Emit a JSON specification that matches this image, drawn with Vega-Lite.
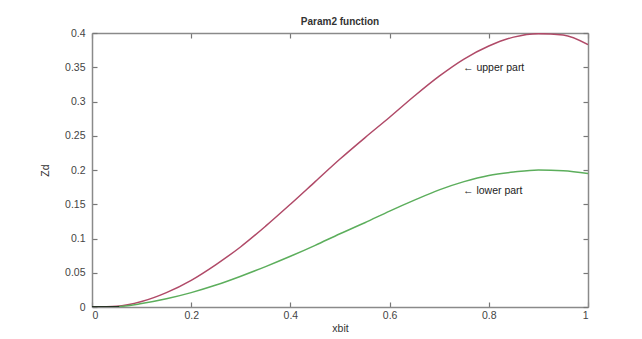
{
  "$schema": "https://vega.github.io/schema/vega-lite/v6.json",
  "width": 496,
  "height": 274,
  "autosize": "none",
  "padding": {"left": 92, "top": 33, "right": 54, "bottom": 32},
  "background": "white",
  "title": {"text": "Param2 function", "fontSize": 10, "fontWeight": "bold", "font": "Liberation Sans", "color": "#333333", "offset": 1},
  "config": {
    "view": {"stroke": null},
    "axis": {"labelFont": "Liberation Sans", "titleFont": "Liberation Sans", "labelFontSize": 10.5, "titleFontSize": 10.5, "titleFontWeight": "normal", "labelColor": "#444444", "titleColor": "#333333", "domainColor": "#8a8a8a", "domainWidth": 1.5, "tickColor": "#777777", "tickWidth": 1.2, "grid": false}
  },
  "resolve": {"axis": {"x": "independent", "y": "independent"}},
  "layer": [
    {
      "data": {"values": [
        {"x": 0, "z": 0, "part": "upper"},
        {"x": 0.05, "z": 0.001, "part": "upper"},
        {"x": 0.1, "z": 0.008, "part": "upper"},
        {"x": 0.15, "z": 0.021, "part": "upper"},
        {"x": 0.2, "z": 0.039, "part": "upper"},
        {"x": 0.25, "z": 0.062, "part": "upper"},
        {"x": 0.3, "z": 0.088, "part": "upper"},
        {"x": 0.35, "z": 0.118, "part": "upper"},
        {"x": 0.4, "z": 0.15, "part": "upper"},
        {"x": 0.45, "z": 0.183, "part": "upper"},
        {"x": 0.5, "z": 0.216, "part": "upper"},
        {"x": 0.55, "z": 0.247, "part": "upper"},
        {"x": 0.6, "z": 0.277, "part": "upper"},
        {"x": 0.65, "z": 0.308, "part": "upper"},
        {"x": 0.7, "z": 0.337, "part": "upper"},
        {"x": 0.75, "z": 0.362, "part": "upper"},
        {"x": 0.8, "z": 0.381, "part": "upper"},
        {"x": 0.85, "z": 0.394, "part": "upper"},
        {"x": 0.9, "z": 0.399, "part": "upper"},
        {"x": 0.95, "z": 0.397, "part": "upper"},
        {"x": 1, "z": 0.383, "part": "upper"},
        {"x": 0, "z": 0, "part": "lower"},
        {"x": 0.05, "z": 0.0005, "part": "lower"},
        {"x": 0.1, "z": 0.005, "part": "lower"},
        {"x": 0.15, "z": 0.012, "part": "lower"},
        {"x": 0.2, "z": 0.021, "part": "lower"},
        {"x": 0.25, "z": 0.032, "part": "lower"},
        {"x": 0.3, "z": 0.045, "part": "lower"},
        {"x": 0.35, "z": 0.059, "part": "lower"},
        {"x": 0.4, "z": 0.074, "part": "lower"},
        {"x": 0.45, "z": 0.09, "part": "lower"},
        {"x": 0.5, "z": 0.107, "part": "lower"},
        {"x": 0.55, "z": 0.123, "part": "lower"},
        {"x": 0.6, "z": 0.14, "part": "lower"},
        {"x": 0.65, "z": 0.156, "part": "lower"},
        {"x": 0.7, "z": 0.171, "part": "lower"},
        {"x": 0.75, "z": 0.183, "part": "lower"},
        {"x": 0.8, "z": 0.192, "part": "lower"},
        {"x": 0.85, "z": 0.197, "part": "lower"},
        {"x": 0.9, "z": 0.2, "part": "lower"},
        {"x": 0.95, "z": 0.199, "part": "lower"},
        {"x": 1, "z": 0.195, "part": "lower"},
        {"x": 0, "z": 0, "part": "base"},
        {"x": 0.055, "z": 0, "part": "base"}
      ]},
      "mark": {"type": "line", "interpolate": "monotone", "strokeWidth": 1.5, "clip": true},
      "encoding": {
        "x": {"field": "x", "type": "quantitative", "scale": {"domain": [0, 1], "nice": false, "zero": false},
              "axis": {"orient": "bottom", "title": "xbit", "values": [0, 0.2, 0.4, 0.6, 0.8, 1], "format": "~g", "tickSize": -5, "labelPadding": 8, "titlePadding": 3}},
        "y": {"field": "z", "type": "quantitative", "scale": {"domain": [0, 0.4], "nice": false},
              "axis": {"orient": "left", "title": "Zd", "values": [0, 0.05, 0.1, 0.15, 0.2, 0.25, 0.3, 0.35, 0.4], "format": "~g", "tickSize": -5, "labelPadding": 12, "titlePadding": 14}},
        "color": {"field": "part", "type": "nominal", "scale": {"domain": ["upper", "lower", "base"], "range": ["#b04a68", "#5cae5c", "#111111"]}, "legend": null},
        "order": {"field": "x"}
      }
    },
    {
      "data": {"values": [
        {"x": 0.748, "z": 0.349, "label": "\u2190 upper part"},
        {"x": 0.748, "z": 0.169, "label": "\u2190 lower part"}
      ]},
      "mark": {"type": "text", "align": "left", "baseline": "middle", "font": "Liberation Sans", "fontSize": 10.5, "color": "#222222"},
      "encoding": {
        "x": {"field": "x", "type": "quantitative",
              "axis": {"orient": "top", "title": null, "labels": false, "values": [0, 0.2, 0.4, 0.6, 0.8, 1], "tickSize": -5}},
        "y": {"field": "z", "type": "quantitative",
              "axis": {"orient": "right", "title": null, "labels": false, "values": [0, 0.05, 0.1, 0.15, 0.2, 0.25, 0.3, 0.35, 0.4], "tickSize": -5}},
        "text": {"field": "label"}
      }
    }
  ]
}
